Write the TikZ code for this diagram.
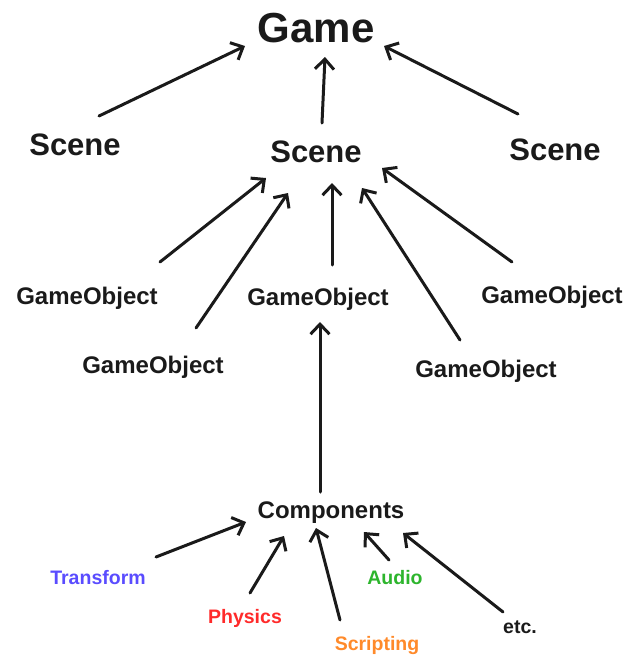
\documentclass[tikz,border=0pt]{standalone}
\usepackage{fontspec}
\setmainfont{Liberation Sans}
\usetikzlibrary{arrows.meta}
\definecolor{ink}{HTML}{1A1A1A}
\definecolor{cblue}{HTML}{5A4CFF}
\definecolor{cred}{HTML}{FF2A2A}
\definecolor{corange}{HTML}{FF8A2A}
\definecolor{cgreen}{HTML}{2DB52D}
\tikzset{
  lbl/.style={inner sep=0pt, text=ink, font=\bfseries},
  big/.style={lbl, font=\fontsize{42}{44}\selectfont\bfseries},
  mid/.style={lbl, font=\fontsize{31}{33}\selectfont\bfseries},
  go/.style={lbl, font=\fontsize{24}{26}\selectfont\bfseries},
  comp/.style={lbl, font=\fontsize{19.5}{21}\selectfont\bfseries},
  arr/.style={draw=ink, line width=3pt, line cap=round, -{Straight Barb[length=10pt,width=19pt]}}
}
\begin{document}
\begin{tikzpicture}[x=1pt,y=-1pt]
\useasboundingbox[fill=white] (0,0) rectangle (628,659);
% nodes
\node[big] (game) at (316,28) {Game};
\node[mid] (sceneL) at (75,145) {Scene};
\node[mid] (sceneM) at (316,152) {Scene};
\node[mid] (sceneR) at (555,150) {Scene};
\node[go] (goL) at (87,298) {GameObject};
\node[go] (goM) at (318,299) {GameObject};
\node[go] (goR) at (552,297) {GameObject};
\node[go] (goLL) at (153,367) {GameObject};
\node[go] (goLR) at (486,371) {GameObject};
\node[go] (comps) at (331,513) {Components};
\node[comp, text=cblue] (tr) at (98,578) {Transform};
\node[comp, text=cred] (ph) at (245,618) {Physics};
\node[comp, text=corange] (sc) at (377,645) {Scripting};
\node[comp, text=cgreen] (au) at (395,578) {Audio};
\node[comp] (etc) at (520,627) {etc.};
% arrow ends
\coordinate (sLt) at (99,116);  \coordinate (sLh) at (245,46);
\coordinate (sMt) at (322,123); \coordinate (sMh) at (325,57);
\coordinate (sRt) at (518,114); \coordinate (sRh) at (384,46);
\coordinate (gLt) at (160,262); \coordinate (gLh) at (266,178);
\coordinate (gLLt) at (196,328); \coordinate (gLLh) at (288,193);
\coordinate (gMt) at (332,265); \coordinate (gMh) at (332,183);
\coordinate (gLRt) at (460,340); \coordinate (gLRh) at (362,188);
\coordinate (gRt) at (512,262); \coordinate (gRh) at (382,168);
\coordinate (cMt) at (320,492); \coordinate (cMh) at (320,322);
\coordinate (trt) at (156,557); \coordinate (trh) at (246,522);
\coordinate (pht) at (250,593); \coordinate (phh) at (284,536);
\coordinate (sct) at (340,620); \coordinate (sch) at (316,528);
\coordinate (aut) at (389,560); \coordinate (auh) at (364,532);
\coordinate (ett) at (503,612); \coordinate (eth) at (403,533);
% connectors
\draw[arr] (sLt) -- (sLh);
\draw[arr] (sMt) -- (sMh);
\draw[arr] (sRt) -- (sRh);
\draw[arr] (gLt) -- (gLh);
\draw[arr] (gLLt) -- (gLLh);
\draw[arr] (gMt) -- (gMh);
\draw[arr] (gLRt) -- (gLRh);
\draw[arr] (gRt) -- (gRh);
\draw[arr] (cMt) -- (cMh);
\draw[arr] (trt) -- (trh);
\draw[arr] (pht) -- (phh);
\draw[arr] (sct) -- (sch);
\draw[arr] (aut) -- (auh);
\draw[arr] (ett) -- (eth);
\end{tikzpicture}
\end{document}
